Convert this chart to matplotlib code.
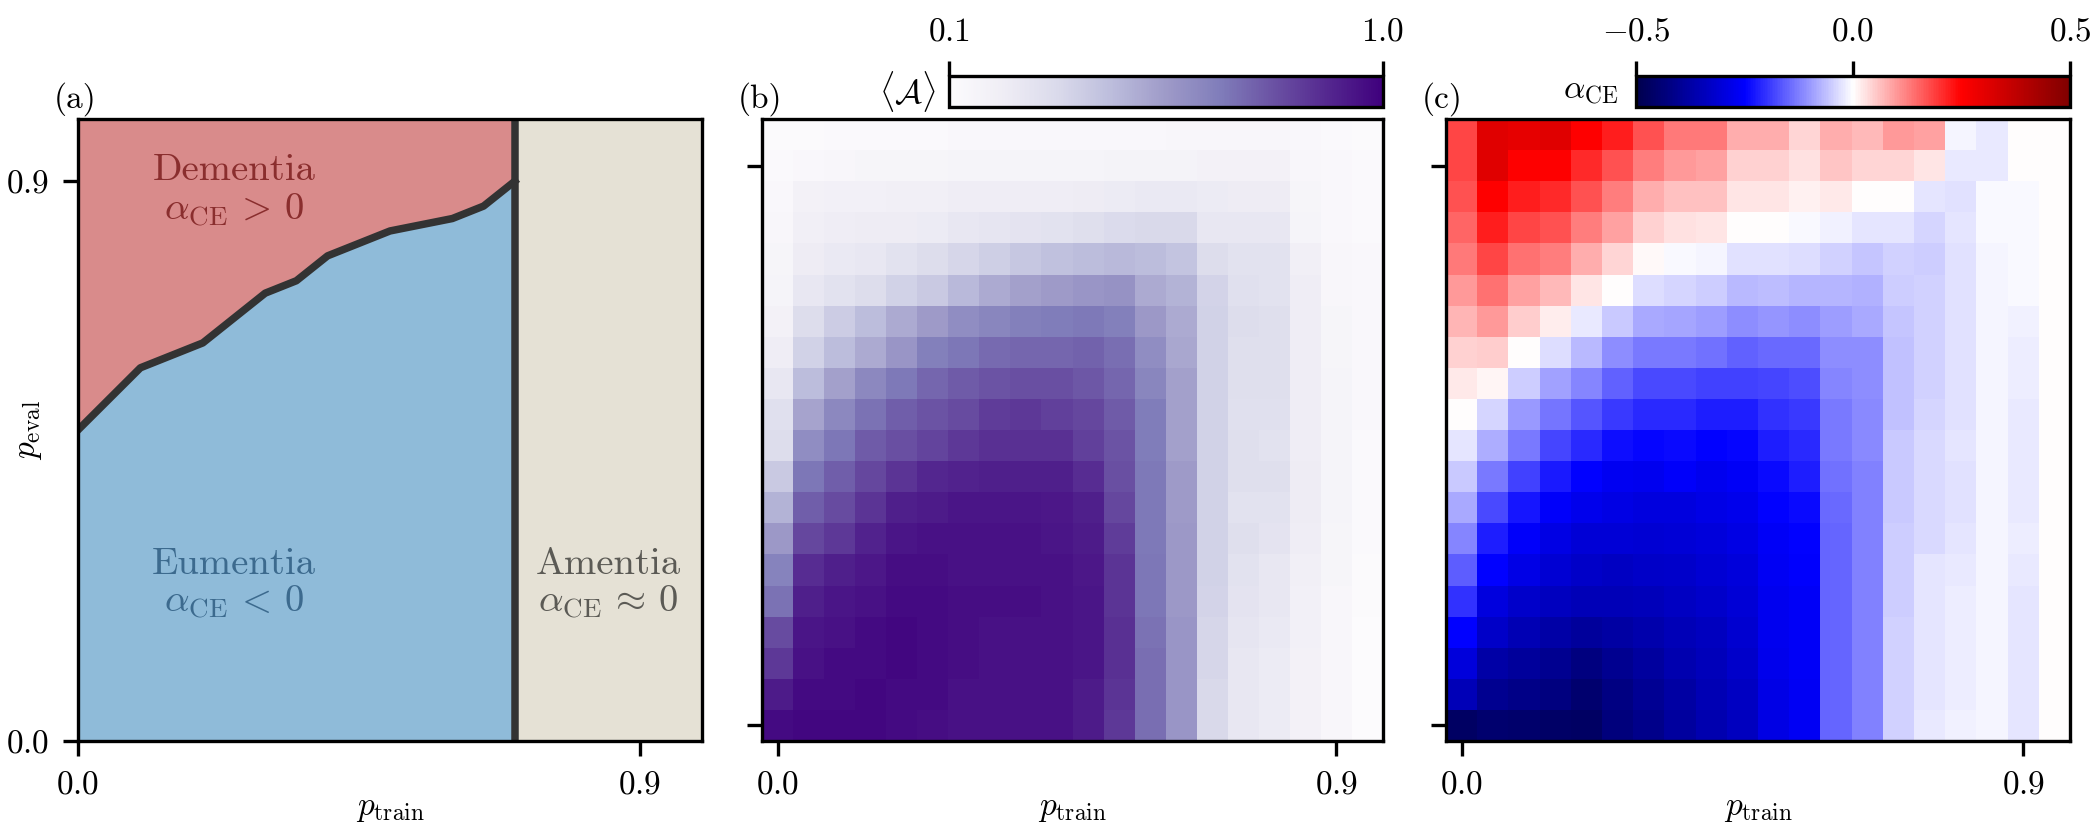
import numpy as np
import matplotlib
matplotlib.use('Agg')
import matplotlib.pyplot as plt

plt.rcParams['font.family'] = 'serif'
plt.rcParams['font.serif'] = ['cmr10']
plt.rcParams['mathtext.fontset'] = 'cm'
plt.rcParams['font.size'] = 8
plt.rcParams['axes.unicode_minus'] = False

#phase boundary of panel (a)
train_edge = [0.0, 0.1, 0.2, 0.3, 0.35, 0.4, 0.5, 0.6, 0.65, 0.7]
eval_edge = [0.5, 0.6, 0.64, 0.72, 0.74, 0.78, 0.82, 0.84, 0.86, 0.9]
amentia_start = 0.7

#grid of p_train / p_eval values used for the heatmaps
p_grid = [0.0, 0.05, 0.1, 0.15, 0.2, 0.25, 0.3, 0.35, 0.4, 0.45,
          0.5, 0.55, 0.6, 0.65, 0.7, 0.75, 0.8, 0.85, 0.9, 0.95]

#mean accuracy <A>, rows from p_eval = 0.95 (top) down to 0.0 (bottom)
acc_rows = [
    [0.11, 0.11, 0.12, 0.12, 0.12, 0.12, 0.13, 0.13, 0.13, 0.13, 0.13, 0.13, 0.13, 0.14, 0.14, 0.14, 0.14, 0.13, 0.12, 0.11],
    [0.12, 0.13, 0.14, 0.15, 0.15, 0.15, 0.16, 0.16, 0.16, 0.16, 0.16, 0.17, 0.17, 0.17, 0.18, 0.18, 0.18, 0.14, 0.13, 0.12],
    [0.13, 0.18, 0.19, 0.19, 0.20, 0.20, 0.21, 0.21, 0.21, 0.21, 0.22, 0.23, 0.24, 0.24, 0.23, 0.22, 0.22, 0.15, 0.13, 0.12],
    [0.14, 0.20, 0.21, 0.22, 0.22, 0.23, 0.25, 0.26, 0.27, 0.28, 0.30, 0.32, 0.33, 0.33, 0.25, 0.25, 0.25, 0.16, 0.13, 0.12],
    [0.15, 0.22, 0.24, 0.25, 0.28, 0.31, 0.34, 0.37, 0.40, 0.42, 0.44, 0.45, 0.44, 0.41, 0.31, 0.28, 0.28, 0.20, 0.14, 0.13],
    [0.16, 0.25, 0.28, 0.31, 0.36, 0.39, 0.45, 0.50, 0.53, 0.55, 0.57, 0.58, 0.50, 0.47, 0.35, 0.29, 0.28, 0.21, 0.14, 0.13],
    [0.18, 0.31, 0.38, 0.44, 0.50, 0.55, 0.60, 0.63, 0.65, 0.66, 0.67, 0.65, 0.56, 0.50, 0.36, 0.31, 0.30, 0.21, 0.15, 0.13],
    [0.21, 0.36, 0.44, 0.50, 0.57, 0.65, 0.68, 0.71, 0.72, 0.72, 0.73, 0.70, 0.60, 0.51, 0.36, 0.30, 0.30, 0.21, 0.15, 0.13],
    [0.25, 0.44, 0.53, 0.62, 0.67, 0.72, 0.75, 0.77, 0.78, 0.78, 0.76, 0.72, 0.63, 0.53, 0.36, 0.30, 0.30, 0.21, 0.16, 0.13],
    [0.29, 0.52, 0.62, 0.69, 0.74, 0.77, 0.79, 0.83, 0.84, 0.82, 0.80, 0.75, 0.66, 0.53, 0.36, 0.29, 0.29, 0.21, 0.16, 0.13],
    [0.31, 0.60, 0.68, 0.75, 0.78, 0.81, 0.84, 0.86, 0.86, 0.86, 0.82, 0.77, 0.66, 0.53, 0.36, 0.30, 0.28, 0.21, 0.16, 0.12],
    [0.39, 0.68, 0.74, 0.80, 0.85, 0.89, 0.90, 0.91, 0.91, 0.91, 0.87, 0.78, 0.67, 0.55, 0.36, 0.30, 0.30, 0.22, 0.16, 0.12],
    [0.47, 0.74, 0.79, 0.85, 0.91, 0.92, 0.94, 0.94, 0.94, 0.93, 0.91, 0.80, 0.67, 0.55, 0.36, 0.28, 0.28, 0.22, 0.16, 0.12],
    [0.56, 0.80, 0.84, 0.90, 0.94, 0.95, 0.95, 0.95, 0.95, 0.94, 0.92, 0.83, 0.67, 0.56, 0.36, 0.30, 0.27, 0.21, 0.15, 0.12],
    [0.64, 0.87, 0.91, 0.93, 0.96, 0.96, 0.95, 0.95, 0.95, 0.95, 0.93, 0.85, 0.68, 0.56, 0.36, 0.28, 0.25, 0.20, 0.15, 0.11],
    [0.69, 0.91, 0.94, 0.95, 0.97, 0.97, 0.96, 0.96, 0.96, 0.95, 0.94, 0.85, 0.68, 0.56, 0.35, 0.27, 0.25, 0.19, 0.14, 0.11],
    [0.79, 0.94, 0.95, 0.97, 0.98, 0.97, 0.96, 0.95, 0.95, 0.95, 0.94, 0.86, 0.69, 0.57, 0.34, 0.26, 0.24, 0.19, 0.14, 0.10],
    [0.84, 0.95, 0.97, 0.97, 0.98, 0.97, 0.96, 0.95, 0.95, 0.95, 0.94, 0.86, 0.70, 0.57, 0.34, 0.25, 0.23, 0.18, 0.14, 0.10],
    [0.92, 0.97, 0.97, 0.98, 0.97, 0.97, 0.95, 0.95, 0.95, 0.95, 0.92, 0.85, 0.70, 0.57, 0.33, 0.25, 0.23, 0.18, 0.14, 0.10],
    [0.97, 0.98, 0.98, 0.98, 0.97, 0.96, 0.95, 0.95, 0.95, 0.95, 0.92, 0.84, 0.70, 0.57, 0.33, 0.25, 0.23, 0.18, 0.14, 0.10],
]

#alpha_CE, rows from p_eval = 0.95 (top) down to 0.0 (bottom)
alpha_rows = [
    [0.18, 0.31, 0.30, 0.31, 0.25, 0.22, 0.17, 0.13, 0.13, 0.08, 0.08, 0.04, 0.08, 0.07, 0.10, 0.09, -0.01, -0.02, 0.0, 0.0],
    [0.18, 0.31, 0.25, 0.25, 0.21, 0.17, 0.125, 0.10, 0.09, 0.045, 0.045, 0.03, 0.055, 0.04, 0.04, 0.025, -0.02, -0.02, 0.0, 0.0],
    [0.17, 0.25, 0.22, 0.21, 0.17, 0.125, 0.08, 0.06, 0.06, 0.025, 0.025, 0.015, 0.02, 0.0, 0.0, -0.025, -0.03, -0.007, -0.005, 0.0],
    [0.15, 0.22, 0.18, 0.17, 0.125, 0.09, 0.045, 0.03, 0.025, 0.0, 0.0, -0.005, -0.015, -0.025, -0.025, -0.04, -0.027, -0.005, -0.005, 0.0],
    [0.13, 0.18, 0.14, 0.125, 0.08, 0.04, 0.005, -0.007, -0.009, -0.03, -0.03, -0.035, -0.046, -0.056, -0.044, -0.05, -0.03, -0.01, -0.007, 0.0],
    [0.10, 0.14, 0.09, 0.07, 0.027, 0.0, -0.035, -0.042, -0.05, -0.07, -0.066, -0.072, -0.074, -0.076, -0.05, -0.044, -0.03, -0.009, -0.007, 0.0],
    [0.073, 0.10, 0.05, 0.019, -0.02, -0.054, -0.083, -0.087, -0.094, -0.11, -0.105, -0.11, -0.094, -0.085, -0.056, -0.046, -0.03, -0.009, -0.015, 0.0],
    [0.046, 0.05, 0.0, -0.035, -0.07, -0.11, -0.13, -0.13, -0.14, -0.156, -0.146, -0.146, -0.11, -0.11, -0.062, -0.046, -0.03, -0.01, -0.017, 0.0],
    [0.023, 0.01, -0.05, -0.09, -0.12, -0.156, -0.177, -0.177, -0.187, -0.187, -0.18, -0.175, -0.12, -0.113, -0.062, -0.046, -0.03, -0.01, -0.017, 0.0],
    [0.0, -0.04, -0.10, -0.136, -0.165, -0.195, -0.21, -0.21, -0.22, -0.22, -0.20, -0.195, -0.13, -0.116, -0.06, -0.042, -0.03, -0.01, -0.02, 0.0],
    [-0.027, -0.08, -0.13, -0.183, -0.21, -0.235, -0.245, -0.24, -0.25, -0.245, -0.22, -0.21, -0.13, -0.116, -0.054, -0.038, -0.027, -0.009, -0.023, 0.0],
    [-0.054, -0.13, -0.187, -0.226, -0.25, -0.266, -0.27, -0.257, -0.27, -0.26, -0.24, -0.22, -0.14, -0.125, -0.054, -0.038, -0.03, -0.009, -0.02, 0.0],
    [-0.085, -0.177, -0.23, -0.255, -0.274, -0.288, -0.294, -0.294, -0.282, -0.277, -0.25, -0.24, -0.146, -0.124, -0.054, -0.037, -0.03, -0.009, -0.02, 0.0],
    [-0.12, -0.22, -0.257, -0.286, -0.305, -0.305, -0.31, -0.305, -0.299, -0.288, -0.26, -0.25, -0.152, -0.124, -0.05, -0.037, -0.027, -0.009, -0.019, 0.0],
    [-0.16, -0.25, -0.282, -0.31, -0.327, -0.333, -0.327, -0.321, -0.31, -0.299, -0.265, -0.252, -0.152, -0.124, -0.05, -0.027, -0.02, -0.009, -0.02, 0.0],
    [-0.20, -0.294, -0.321, -0.338, -0.349, -0.349, -0.344, -0.333, -0.321, -0.305, -0.271, -0.26, -0.152, -0.124, -0.05, -0.027, -0.019, -0.009, -0.024, 0.0],
    [-0.25, -0.327, -0.355, -0.372, -0.389, -0.377, -0.366, -0.349, -0.338, -0.316, -0.271, -0.26, -0.152, -0.124, -0.046, -0.024, -0.017, -0.009, -0.024, 0.0],
    [-0.299, -0.372, -0.389, -0.405, -0.428, -0.405, -0.383, -0.361, -0.344, -0.321, -0.277, -0.26, -0.152, -0.124, -0.046, -0.024, -0.018, -0.009, -0.024, 0.0],
    [-0.349, -0.405, -0.417, -0.428, -0.45, -0.422, -0.40, -0.377, -0.355, -0.333, -0.282, -0.265, -0.152, -0.124, -0.046, -0.024, -0.017, -0.009, -0.024, 0.0],
    [-0.467, -0.45, -0.455, -0.461, -0.467, -0.433, -0.411, -0.383, -0.361, -0.338, -0.288, -0.265, -0.152, -0.124, -0.046, -0.02, -0.015, -0.009, -0.024, 0.0],
]

tick_vals = [0.0, 0.9]
tick_text = ['$0.0$', '$0.9$']
acc_ticks = [0.1, 1.0]
alpha_ticks = [-0.5, 0.0, 0.5]

W, H = 2100, 833
fig = plt.figure(figsize=(W / 300, H / 300), dpi=300)


def px_box(x0, y0, x1, y1):    #pixel box (top-left origin) -> figure fraction rect
    return [x0 / W, 1 - y1 / H, (x1 - x0) / W, (y1 - y0) / H]


ax_a = fig.add_axes(px_box(78, 119, 702, 741))
ax_b = fig.add_axes(px_box(762, 119, 1383, 741))
ax_c = fig.add_axes(px_box(1446, 119, 2070, 741))
cax_b = fig.add_axes(px_box(949, 76, 1383, 107))
cax_c = fig.add_axes(px_box(1636, 76, 2070, 107))

# panel (a): phase diagram
ax_a.fill_between(train_edge, 0, eval_edge, color='#8fbbd9', lw=0)
ax_a.fill_between(train_edge, eval_edge, 1, color='#d98b8b', lw=0)
ax_a.axvspan(amentia_start, 1.0, color='#e5e1d5', lw=0)
ax_a.plot(train_edge, eval_edge, color='#333333', lw=1.8, solid_joinstyle='round')
ax_a.axvline(amentia_start, color='#333333', lw=1.8)
ax_a.set_xlim(0, 1)
ax_a.set_ylim(0, 1)

region_fs = 9.3
ax_a.text(0.25, 0.917, 'Dementia', color='#8a2e2e', ha='center', va='center', fontsize=region_fs)
ax_a.text(0.25, 0.853, r'$\alpha_{\rm CE}\,>\,0$', color='#8a2e2e', ha='center', va='center', fontsize=region_fs)
ax_a.text(0.25, 0.284, 'Eumentia', color='#3c6a8e', ha='center', va='center', fontsize=region_fs)
ax_a.text(0.25, 0.223, r'$\alpha_{\rm CE}\,<\,0$', color='#3c6a8e', ha='center', va='center', fontsize=region_fs)
ax_a.text(0.85, 0.284, 'Amentia', color='#5b5a55', ha='center', va='center', fontsize=region_fs)
ax_a.text(0.85, 0.223, r'$\alpha_{\rm CE}\,\approx\,0$', color='#5b5a55', ha='center', va='center', fontsize=region_fs)

ax_a.set_xticks(tick_vals)
ax_a.set_xticklabels(tick_text)
ax_a.set_yticks(tick_vals)
ax_a.set_yticklabels(tick_text)
ax_a.set_xlabel(r'$p_{\rm train}$', labelpad=-1)
ax_a.set_ylabel(r'$p_{\rm eval}$')
ax_a.yaxis.set_label_coords(-0.055, 0.5)

# panels (b) and (c): heatmaps
step = p_grid[1] - p_grid[0]
edges = np.append(np.array(p_grid) - step / 2, p_grid[-1] + step / 2)
acc = np.array(acc_rows)[::-1]
alpha = np.array(alpha_rows)[::-1]

mesh_b = ax_b.pcolormesh(edges, edges, acc, cmap='Purples', vmin=0.1, vmax=1.0)
mesh_c = ax_c.pcolormesh(edges, edges, alpha, cmap='seismic', vmin=-0.5, vmax=0.5)

for ax in (ax_b, ax_c):
    ax.set_xlim(edges[0], edges[-1])
    ax.set_ylim(edges[0], edges[-1])
    ax.set_xticks(tick_vals)
    ax.set_xticklabels(tick_text)
    ax.set_yticks(tick_vals)
    ax.set_yticklabels([])
    ax.set_xlabel(r'$p_{\rm train}$', labelpad=-1)

# colorbars on top
cb_b = fig.colorbar(mesh_b, cax=cax_b, orientation='horizontal', ticks=acc_ticks)
cb_c = fig.colorbar(mesh_c, cax=cax_c, orientation='horizontal', ticks=alpha_ticks)
cb_b.ax.set_xticklabels(['$%.1f$' % t for t in acc_ticks])
cb_c.ax.set_xticklabels(['$%.1f$' % t for t in alpha_ticks])
for cb in (cb_b, cb_c):
    cb.ax.xaxis.set_ticks_position('top')
    cb.ax.xaxis.set_label_position('top')
    cb.outline.set_linewidth(0.8)

cax_b.text(-0.03, 0.5, r'$\langle\mathcal{A}\rangle$', transform=cax_b.transAxes,
           ha='right', va='center')
cax_c.text(-0.04, 0.5, r'$\alpha_{\rm CE}$', transform=cax_c.transAxes,
           ha='right', va='center')

# panel labels
for x_px, lab in [(54, '(a)'), (738, '(b)'), (1422, '(c)')]:
    fig.text(x_px / W, 1 - 99 / H, lab, ha='left', va='center')

fig.savefig('out.png', dpi=300)
